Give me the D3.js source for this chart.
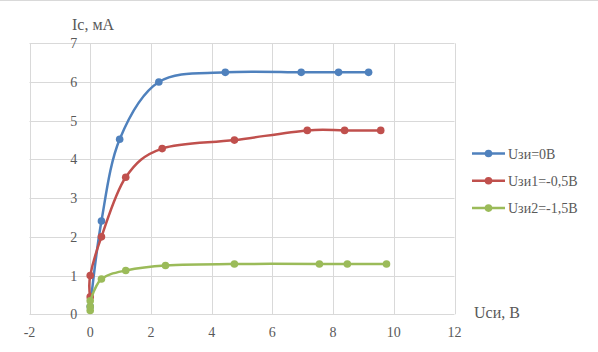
<!DOCTYPE html>
<html>
<head>
<meta charset="utf-8">
<script src="https://cdn.jsdelivr.net/npm/d3@7"></script>
<style>
  body { margin: 0; background: #fff; }
</style>
</head>
<body>
<div id="chart"></div>
<script>
// series names and colours
const seriesNames = ["Uзи=0В", "Uзи1=-0,5В", "Uзи2=-1,5В"];
const seriesColors = ["#4f81bd", "#c0504d", "#9bbb59"];

// values
const blueX = [0, 0.37, 0.97, 2.26, 4.45, 6.95, 8.18, 9.17];
const blueY = [0.2, 2.41, 4.52, 6.0, 6.25, 6.25, 6.25, 6.25];
const redX = [0, 0, 0.37, 1.17, 2.37, 4.75, 7.15, 8.38, 9.57];
const redY = [0.45, 1.0, 2.0, 3.54, 4.28, 4.5, 4.75, 4.75, 4.75];
const greenX = [0, 0, 0, 0.37, 1.17, 2.48, 4.75, 7.55, 8.47, 9.76];
const greenY = [0.1, 0.2, 0.35, 0.91, 1.13, 1.26, 1.3, 1.3, 1.3, 1.3];

const xTicks = [-2, 0, 2, 4, 6, 8, 10, 12];
const yTicks = [0, 1, 2, 3, 4, 5, 6, 7];

const width = 598, height = 352;
const font = "'Liberation Serif', LiberationSerif, 'DejaVu Serif', 'Noto Serif', FreeSerif, Tinos, Times, serif";

const svg = d3.select("#chart").append("svg")
    .attr("width", width)
    .attr("height", height)
    .attr("font-family", font);

// thin chart border at top
svg.append("line")
    .attr("x1", 0).attr("x2", width)
    .attr("y1", 0.5).attr("y2", 0.5)
    .attr("stroke", "#d9d9d9");

const x = d3.scaleLinear().domain([-2, 12]).range([29.5, 454.5]);
const y = d3.scaleLinear().domain([0, 7]).range([314.3, 43.3]);

// gridlines
svg.append("g")
    .selectAll("line")
    .data(xTicks)
    .enter().append("line")
    .attr("x1", d => Math.round(x(d)) + 0.5)
    .attr("x2", d => Math.round(x(d)) + 0.5)
    .attr("y1", y(0)).attr("y2", y(7))
    .attr("stroke", "#d9d9d9");

svg.append("g")
    .selectAll("line")
    .data(yTicks)
    .enter().append("line")
    .attr("y1", d => Math.round(y(d)) + 0.5)
    .attr("y2", d => Math.round(y(d)) + 0.5)
    .attr("x1", x(-2)).attr("x2", x(12))
    .attr("stroke", "#d9d9d9");

// tick labels
svg.append("g")
    .selectAll("text")
    .data(xTicks)
    .enter().append("text")
    .attr("x", d => x(d))
    .attr("y", 337)
    .attr("text-anchor", "middle")
    .attr("fill", "#595959")
    .style("font-family", font)
    .style("font-size", "14px")
    .text(d => d);

svg.append("g")
    .selectAll("text")
    .data(yTicks)
    .enter().append("text")
    .attr("x", x(0) - 13)
    .attr("y", d => y(d) + 5)
    .attr("text-anchor", "end")
    .attr("fill", "#595959")
    .style("font-family", font)
    .style("font-size", "14px")
    .text(d => d);

// axis titles
svg.append("text")
    .attr("x", 72).attr("y", 30)
    .attr("fill", "#595959")
    .style("font-family", font)
    .style("font-size", "16px")
    .text("Ic, мА");

svg.append("text")
    .attr("x", 474).attr("y", 318)
    .attr("fill", "#595959")
    .style("font-family", font)
    .style("font-size", "16px")
    .text("Uси, В");

// series
const series = [
    d3.zip(blueX, blueY),
    d3.zip(redX, redY),
    d3.zip(greenX, greenY)
];

const line = d3.line()
    .x(d => x(d[0]))
    .y(d => y(d[1]))
    .curve(d3.curveCardinal.tension(0));

series.forEach((pts, i) => {
    const g = svg.append("g");
    g.append("path")
        .attr("d", line(pts))
        .attr("fill", "none")
        .attr("stroke", seriesColors[i])
        .attr("stroke-width", 2.5)
        .attr("stroke-linecap", "round");
    g.selectAll("circle")
        .data(pts)
        .enter().append("circle")
        .attr("cx", d => x(d[0]))
        .attr("cy", d => y(d[1]))
        .attr("r", 3.8)
        .attr("fill", seriesColors[i]);
});

// legend
const legend = svg.append("g")
    .selectAll("g")
    .data(seriesNames)
    .enter().append("g")
    .attr("transform", (d, i) => `translate(472,${153.5 + i * 27.3})`);

legend.append("line")
    .attr("x1", 0).attr("x2", 33)
    .attr("stroke", (d, i) => seriesColors[i])
    .attr("stroke-width", 2.5);

legend.append("circle")
    .attr("cx", 16.5)
    .attr("r", 3.8)
    .attr("fill", (d, i) => seriesColors[i]);

legend.append("text")
    .attr("x", 36)
    .attr("y", 5)
    .attr("fill", "#595959")
    .style("font-family", font)
    .style("font-size", "14px")
    .text(d => d);
</script>
</body>
</html>
